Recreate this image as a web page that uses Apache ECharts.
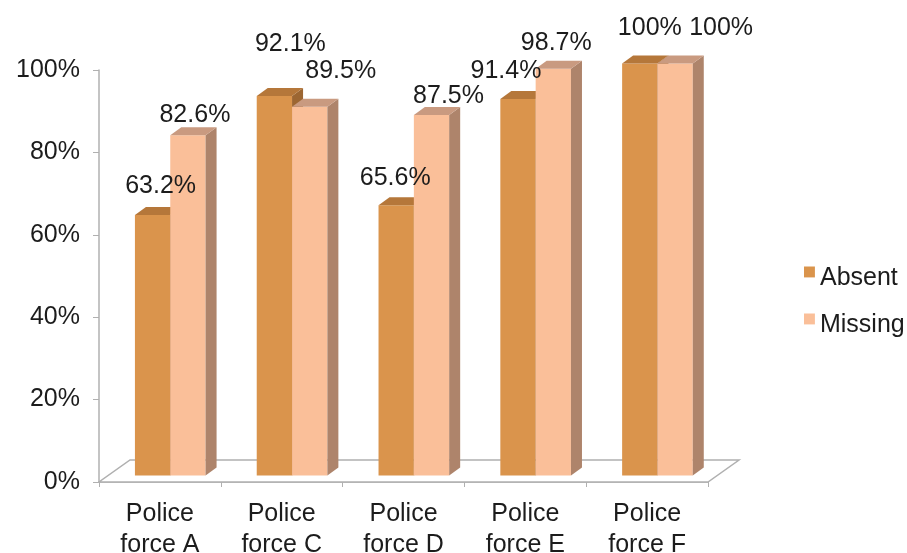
<!DOCTYPE html>
<html>
<head>
<meta charset="utf-8">
<script src="https://cdn.jsdelivr.net/npm/echarts@6/dist/echarts.min.js"></script>
<style>
  html, body { margin: 0; padding: 0; background: #fff; }
  #chart { width: 907px; height: 553px; }
</style>
</head>
<body>
<div id="chart"></div>
<script>
// Share of cases, by police force
const categories = ['Police force A', 'Police force C', 'Police force D', 'Police force E', 'Police force F'];
const absentValues = [63.2, 92.1, 65.6, 91.4, 100];
const missingValues = [82.6, 89.5, 87.5, 98.7, 100];
const yTicks = [0, 20, 40, 60, 80, 100];

// Label nudges [dx, rise above bar top] so crowded labels don't collide
const labelNudge = {
  absent: [[8, 29], [16, 52], [-1, 27], [-12, 28], [10, 35]],
  missing: [[7, 20], [31, 36], [17, 19], [3, 26], [46, 35]]
};

const FONT = '"Liberation Sans", Arial, Helvetica, sans-serif';
const FONT_SIZE = 25;
const TEXT = '#1c1c1c';
const AXIS = '#b0b0b0';
const DEPTH_X = 11, DEPTH_Y = 8;   // bar depth projection
const LIFT = 6.5;                  // bars stand a little behind the front floor edge
const FLOOR_DX = 31, FLOOR_DY = 22;
// legend swatch sits high beside its text
const SWATCH = 'path://M0,0H10V10H0Z M0,22L0,22';

const palette = {
  absent:  { front: '#DA944C', top: '#B5773A', side: '#9C6632' },
  missing: { front: '#FABF99', top: '#C99A80', side: '#AE846B' }
};

function fmt(v) {
  return (Math.round(v) === v ? String(v) : v.toFixed(1)) + '%';
}

// Front-face rectangle of one bar in pixels
function barBox(api, slot) {
  const i = api.value(0);
  const v = api.value(1);
  const base = api.coord([i, 0]);
  const top = api.coord([i, v]);
  const band = api.size([1, 0])[0];
  const w = band * 0.29;
  const x1 = base[0] - band * 0.205 + slot * w;
  return { i, v, x1, x2: x1 + w, yb: base[1] - LIFT, yt: top[1] - LIFT };
}

function barRenderer(key, slot) {
  const col = palette[key];
  return function (params, api) {
    const { x1, x2, yb, yt } = barBox(api, slot);
    return {
      type: 'group',
      children: [
        { type: 'polygon', shape: { points: [[x1, yb], [x2, yb], [x2, yt], [x1, yt]] },
          style: { fill: col.front } },
        { type: 'polygon', shape: { points: [[x2, yb], [x2 + DEPTH_X, yb - DEPTH_Y], [x2 + DEPTH_X, yt - DEPTH_Y], [x2, yt]] },
          style: { fill: col.side } },
        { type: 'polygon', shape: { points: [[x1, yt], [x2, yt], [x2 + DEPTH_X, yt - DEPTH_Y], [x1 + DEPTH_X, yt - DEPTH_Y]] },
          style: { fill: col.top } }
      ]
    };
  };
}

function labelRenderer(key, slot) {
  return function (params, api) {
    const { i, v, x1, x2, yt } = barBox(api, slot);
    const n = labelNudge[key][i];
    return {
      type: 'text',
      style: { text: fmt(v), x: (x1 + x2) / 2 + n[0], y: yt - n[1],
               align: 'center', verticalAlign: 'middle',
               font: FONT_SIZE + 'px ' + FONT, fill: TEXT }
    };
  };
}

function floorRenderer(params, api) {
  const band = api.size([1, 0])[0];
  const first = api.coord([0, 0]);
  const last = api.coord([categories.length - 1, 0]);
  const xl = first[0] - band / 2, xr = last[0] + band / 2, y = first[1];
  return {
    type: 'polygon',
    shape: { points: [[xl, y], [xr, y], [xr + FLOOR_DX, y - FLOOR_DY], [xl + FLOOR_DX, y - FLOOR_DY]] },
    style: { fill: '#fff', stroke: AXIS, lineWidth: 1.5 }
  };
}

const absentData = absentValues.map((v, i) => [i, v]);
const missingData = missingValues.map((v, i) => [i, v]);

const chart = echarts.init(document.getElementById('chart'));
chart.setOption({
  animation: false,
  backgroundColor: '#fff',
  grid: { left: 99, right: 199, top: 70, bottom: 71, containLabel: false, outerBoundsMode: 'none' },
  legend: {
    orient: 'vertical', left: 799, top: 261, itemGap: 22,
    itemWidth: 11, itemHeight: 24,
    textStyle: { fontSize: FONT_SIZE, fontFamily: FONT, color: TEXT },
    data: [{ name: 'Absent', icon: SWATCH }, { name: 'Missing', icon: SWATCH }]
  },
  xAxis: {
    type: 'category',
    data: categories,
    axisLine: { lineStyle: { color: AXIS, width: 1.5 } },
    axisTick: { show: true, length: 5, lineStyle: { color: AXIS } },
    axisLabel: {
      margin: 17, fontSize: FONT_SIZE, lineHeight: 31, fontFamily: FONT, color: TEXT,
      formatter: s => s.replace(' force', '\nforce')
    }
  },
  yAxis: {
    type: 'value', min: yTicks[0], max: yTicks[yTicks.length - 1], interval: 20,
    axisLine: { show: true, lineStyle: { color: AXIS, width: 1.5 } },
    axisTick: { show: true, length: 6, lineStyle: { color: AXIS } },
    splitLine: { show: false },
    axisLabel: { margin: 19, fontSize: FONT_SIZE, fontFamily: FONT, color: TEXT, formatter: '{value}%' }
  },
  series: [
    { type: 'custom', name: 'floor', silent: true, z: 1,
      renderItem: floorRenderer, data: [[0, 0]] },
    { type: 'custom', name: 'Absent', z: 2,
      itemStyle: { color: palette.absent.front },
      renderItem: barRenderer('absent', 0), data: absentData },
    { type: 'custom', name: 'Missing', z: 3,
      itemStyle: { color: palette.missing.front },
      renderItem: barRenderer('missing', 1), data: missingData },
    { type: 'custom', name: 'absentLabels', silent: true, z: 10,
      renderItem: labelRenderer('absent', 0), data: absentData },
    { type: 'custom', name: 'missingLabels', silent: true, z: 10,
      renderItem: labelRenderer('missing', 1), data: missingData }
  ]
});
</script>
</body>
</html>
